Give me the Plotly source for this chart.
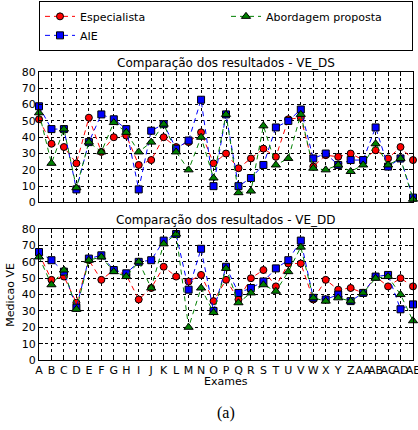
import plotly.graph_objects as go

categories = ["A","B","C","D","E","F","G","H","I","J","K","L","M","N","O","P",
              "Q","R","S","T","U","V","W","X","Y","Z","AA","AB","AC","AD","AE"]

# VE_DS (top)
ds_especialista = [51,36,34,24,52,31,40,41,23,26,40,34,37,43,24,30,21,27,33,28,51,52,22,29,28,30,26,32,27,34,26]
ds_aie          = [59,45,45,8,37,54,51,45,8,44,48,33,38,63,10,54,10,15,23,46,50,57,27,30,23,26,26,46,22,27,3]
ds_abordagem    = [55,24,45,9,37,31,49,43,31,37,48,31,20,40,15,54,6,7,47,23,27,54,21,20,23,19,23,36,23,27,2]

# VE_DD (bottom)
dd_especialista = [65,49,51,35,61,49,55,52,37,44,57,51,48,52,36,49,37,50,55,45,59,59,37,49,43,44,41,51,45,50,45]
dd_aie          = [66,61,54,32,62,64,55,53,60,61,73,77,43,68,30,57,41,44,48,56,61,73,38,37,40,36,41,51,52,31,34]
dd_abordagem    = [63,46,55,31,61,63,54,51,60,44,71,77,20,44,29,56,35,41,46,42,54,69,38,36,38,36,41,50,51,40,24]

series_names = ["Especialista", "AIE", "Abordagem proposta"]
title_ds = "Comparação dos resultados - VE_DS"
title_dd = "Comparação dos resultados - VE_DD"

colors = ["#ff0000", "#0000ff", "#008000"]
symbols = ["circle", "square", "triangle-up"]
sizes = [7, 7, 8]
ranks = [1, 3, 2]

W, H = 418, 430
L, R, T, B = 39.3, 413.4, 71.7, 360.0
plot_h = B - T
top_dom = [(B - 202.3) / plot_h, 1.0]
bot_dom = [0.0, (B - 229.0) / plot_h]

fig = go.Figure()
FONT = "DejaVu Sans"

for (data, xa, ya, show) in [((ds_especialista, ds_aie, ds_abordagem), "x2", "y2", True),
                            ((dd_especialista, dd_aie, dd_abordagem), "x", "y", False)]:
    for i, vals in enumerate(data):
        fig.add_trace(go.Scatter(
            x=categories, y=vals, xaxis=xa, yaxis=ya,
            mode="lines+markers", name=series_names[i], showlegend=show,
            legendrank=ranks[i], cliponaxis=False,
            line=dict(color=colors[i], width=1, dash="5px,4px"),
            marker=dict(symbol=symbols[i], size=sizes[i], color=colors[i],
                        line=dict(color="black", width=1)),
        ))

axis_common = dict(
    showline=True, linecolor="black", linewidth=1, mirror="allticks",
    ticks="inside", ticklen=4, tickcolor="black",
    showgrid=True, gridcolor="black", gridwidth=1, griddash="dot",
    zeroline=False, tickfont=dict(family=FONT, size=11, color="black"),
)

xcommon = dict(axis_common, type="category", range=[0, len(categories) - 1],
               tickmode="array", tickvals=categories, ticktext=categories, tickangle=0)
ycommon = dict(axis_common, range=[0, 80], tickmode="linear", tick0=0, dtick=10)

fig.update_layout(
    width=W, height=H,
    margin=dict(l=L, r=W - R, t=T, b=H - B, pad=0, autoexpand=False),
    paper_bgcolor="white", plot_bgcolor="white",
    font=dict(family=FONT, size=11, color="black"),
    xaxis=dict(xcommon, anchor="y", domain=[0, 1], ticklabelstandoff=0),
    yaxis=dict(ycommon, anchor="x", domain=bot_dom),
    xaxis2=dict(xcommon, anchor="y2", domain=[0, 1], showticklabels=False, matches="x"),
    yaxis2=dict(ycommon, anchor="x2", domain=top_dom),
    legend=dict(
        orientation="h", x=0, xanchor="left", y=(B - 0.5) / plot_h, yanchor="top",
        bordercolor="black", borderwidth=1, bgcolor="white",
        entrywidth=141, entrywidthmode="pixels",
        font=dict(family=FONT, size=11, color="black"),
        tracegroupgap=0, itemwidth=30,
    ),
    showlegend=True,
)

anns = [
    dict(text=title_ds, x=0.5, y=1.0, xref="paper", yref="paper",
         xanchor="center", yanchor="bottom", yshift=0, showarrow=False,
         font=dict(family=FONT, size=12, color="black")),
    dict(text=title_dd, x=0.5, y=bot_dom[1], xref="paper", yref="paper",
         xanchor="center", yanchor="bottom", yshift=0, showarrow=False,
         font=dict(family=FONT, size=12, color="black")),
    dict(text="Medicao VE", x=(10.5 - L) / (R - L), y=0.5 * bot_dom[1] + 0.5 * bot_dom[0],
         xref="paper", yref="paper", xanchor="center", yanchor="middle",
         textangle=-90, showarrow=False, font=dict(family=FONT, size=11, color="black")),
    dict(text="Exames", x=0.5, y=-(382 - B) / plot_h, xref="paper", yref="paper",
         xanchor="center", yanchor="middle", showarrow=False,
         font=dict(family=FONT, size=11, color="black")),
    dict(text="(a)", x=0.5, y=-(413 - B) / plot_h, xref="paper", yref="paper",
         xanchor="center", yanchor="middle", showarrow=False,
         font=dict(family="Liberation Serif", size=16, color="black")),
]
fig.update_layout(annotations=anns)

fig.write_html("out.html", config={"displayModeBar": False},
               post_script="document.body.style.margin='0px';document.body.style.padding='0px';")
